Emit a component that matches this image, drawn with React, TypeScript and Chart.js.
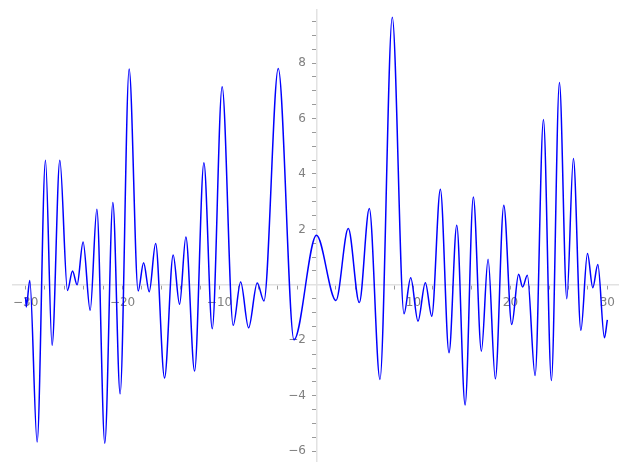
import React, { useEffect, useRef } from "react";
import { Chart, registerables } from "chart.js";

Chart.register(...registerables);

const xValues: number[] = [
  -30, -29.93, -29.57, -28.81, -27.95, -27.27, -26.47, -25.68, -25.16, -24.69,
  -24.07, -23.34, -22.65, -21.83, -21.0, -20.25, -19.32, -18.39, -17.83, -17.25,
  -16.59, -15.67, -14.78, -14.12, -13.47, -12.57, -11.61, -10.75, -9.73, -8.59,
  -7.82, -7.0, -6.11, -5.42, -3.94, -2.32, 0, 2.01, 3.28, 4.42,
  5.45, 6.55, 7.82, 9.03, 9.72, 10.47, 11.23, 11.89, 12.78, 13.67,
  14.47, 15.33, 16.18, 17.01, 17.7, 18.45, 19.32, 20.14, 20.85, 21.26,
  21.75, 22.55, 23.41, 24.23, 25.06, 25.82, 26.5, 27.27, 27.95, 28.5,
  29.02, 29.7, 30,
];

const yValues: number[] = [
  -0.45, -0.8, 0.16, -5.67, 4.49, -2.18, 4.49, -0.2, 0.5, 0.0,
  1.55, -0.92, 2.73, -5.71, 2.97, -3.93, 7.78, -0.22, 0.8, -0.25,
  1.49, -3.36, 1.08, -0.7, 1.73, -3.11, 4.4, -1.58, 7.14, -1.46,
  0.1, -1.55, 0.07, -0.58, 7.8, -1.98, 1.79, -0.56, 2.03, -0.64,
  2.75, -3.41, 9.65, -1.04, 0.26, -1.31, 0.08, -1.13, 3.45, -2.45,
  2.15, -4.33, 3.17, -2.39, 0.92, -3.39, 2.87, -1.43, 0.38, -0.08,
  0.35, -3.27, 5.96, -3.45, 7.3, -0.5, 4.56, -1.64, 1.13, -0.1,
  0.73, -1.91, -1.26,
];

const xTickLabels: number[] = [-30, -20, -10, 10, 20, 30];
const yTickLabels: number[] = [-6, -4, -2, 2, 4, 6, 8];

function fmt(n: number): string {
  return n < 0 ? "\u2212" + Math.abs(n) : String(n);
}

export default function App() {
  const ref = useRef<HTMLCanvasElement | null>(null);

  useEffect(() => {
    const canvas = ref.current;
    if (!canvas) return;
    const points = xValues.map((x, i) => ({ x, y: yValues[i] }));
    const labelColor = "#808080";
    const tickColor = "#9a9a9a";
    const axisColor = "#e2e2e2";
    const font = { family: "DejaVu Sans", size: 12 };

    const chart = new Chart(canvas, {
      type: "line",
      data: {
        datasets: [
          {
            data: points,
            borderColor: "#0000ff",
            borderWidth: 1.5,
            pointRadius: 0,
            fill: false,
            cubicInterpolationMode: "monotone",
          },
        ],
      },
      options: {
        animation: false,
        responsive: false,
        maintainAspectRatio: false,
        layout: { padding: { left: 13, right: 9, top: 9.5, bottom: 7.5 } },
        plugins: { legend: { display: false }, tooltip: { enabled: false } },
        scales: {
          x: {
            type: "linear",
            position: { y: 0 },
            min: -31.3,
            max: 31.1,
            afterFit: (s: any) => {
              s.height = 0;
              s.paddingLeft = 0;
              s.paddingRight = 0;
              s.paddingTop = 0;
              s.paddingBottom = 0;
            },
            grid: {
              drawOnChartArea: false,
              drawTicks: true,
              tickLength: 4,
              color: tickColor,
            },
            border: { display: true, color: axisColor, width: 1.5 },
            ticks: {
              stepSize: 2,
              includeBounds: false,
              autoSkip: false,
              maxRotation: 0,
              padding: 7,
              color: labelColor,
              font,
              callback: (v: any) => {
                const n = Number(v);
                return xTickLabels.includes(n) ? fmt(n) : "";
              },
            },
          },
          y: {
            type: "linear",
            position: { x: 0 },
            min: -6.37,
            max: 9.93,
            afterFit: (s: any) => {
              s.width = 0;
              s.paddingLeft = 0;
              s.paddingRight = 0;
              s.paddingTop = 0;
              s.paddingBottom = 0;
              if (!s.__shifted) {
                const orig = s._computeLabelItems.bind(s);
                s._computeLabelItems = (ca: any) =>
                  orig(ca).map((it: any) => ({
                    ...it,
                    options: {
                      ...it.options,
                      translation: [it.options.translation[0] - 10.5, it.options.translation[1]],
                    },
                  }));
                s.__shifted = true;
              }
            },
            grid: {
              drawOnChartArea: false,
              drawTicks: true,
              tickLength: 4,
              color: tickColor,
            },
            border: { display: true, color: axisColor, width: 1.5 },
            ticks: {
              stepSize: 0.5,
              includeBounds: false,
              autoSkip: false,
              padding: 6,
              color: labelColor,
              font,
              callback: (v: any) => {
                const n = Number(v);
                return yTickLabels.includes(n) ? fmt(n) : "";
              },
            },
          },
        },
      },
    } as any);
    return () => chart.destroy();
  }, []);

  return (
    <div style={{ position: "fixed", left: 0, top: 0, width: 627, height: 469, background: "#fff" }}>
      <canvas ref={ref} width={627} height={469} style={{ width: 627, height: 469, display: "block" }} />
    </div>
  );
}
